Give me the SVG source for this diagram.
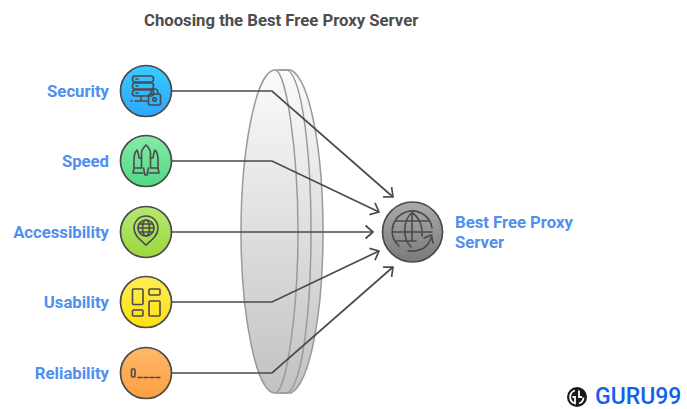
<svg xmlns="http://www.w3.org/2000/svg" width="687" height="409" viewBox="0 0 687 409">
<style>
text{font-family:Roboto,"Liberation Sans",sans-serif;font-weight:700}
.t{font-size:16.700px;fill:#4d4d4d}
.l{font-size:16.700px;fill:#4f8ff0}
.c{stroke:#4a4a4a;stroke-width:1.700}
.i{fill:none;stroke:#4a4a4a;stroke-width:1.600;stroke-linecap:round;stroke-linejoin:round}
.e{fill:none;stroke:#9a9a9a;stroke-width:1.500}
.a{fill:none;stroke:#4a4a4a;stroke-width:1.700;stroke-linejoin:round}
</style>
<defs>
<linearGradient id="g0" x1="0" y1="0" x2="0" y2="1"><stop offset="0" stop-color="#fbfbfb"/><stop offset="1" stop-color="#c2c2c2"/></linearGradient>
<linearGradient id="g1" x1="0" y1="0" x2="0" y2="1"><stop offset="0" stop-color="#38ccff"/><stop offset="1" stop-color="#2ea6ff"/></linearGradient>
<linearGradient id="g2" x1="0" y1="0" x2="0" y2="1"><stop offset="0" stop-color="#86eba6"/><stop offset="1" stop-color="#52d884"/></linearGradient>
<linearGradient id="g3" x1="0" y1="0" x2="0" y2="1"><stop offset="0" stop-color="#b8e672"/><stop offset="1" stop-color="#9cd83c"/></linearGradient>
<linearGradient id="g4" x1="0" y1="0" x2="0" y2="1"><stop offset="0" stop-color="#ffee55"/><stop offset="1" stop-color="#fde010"/></linearGradient>
<linearGradient id="g5" x1="0" y1="0" x2="0" y2="1"><stop offset="0" stop-color="#ffb868"/><stop offset="1" stop-color="#fd9f45"/></linearGradient>
<linearGradient id="g6" x1="0" y1="0" x2="0" y2="1"><stop offset="0" stop-color="#ababab"/><stop offset="1" stop-color="#7a7a7a"/></linearGradient>
<marker id="ah" markerUnits="userSpaceOnUse" markerWidth="16" markerHeight="16" refX="12" refY="8" orient="auto"><path d="M4.500 1.500L12 8L4.500 14.500" class="a"/></marker>
</defs>
<text class="t" x="144" y="26">Choosing the Best Free Proxy Server</text>
<g id="lens">
<path d="M277 70H290C309 78 323 150 323 232C323 314 309 385 290 393H277C255 393 241 314 241 232C241 150 255 70 277 70Z" fill="url(#g0)"/>
<path class="e" d="M275 70C256 70 241 150 241 232C241 314 256 393 275 393C286 393 298 314 298 232C298 150 286 70 275 70Z"/>
<path class="e" d="M275 70H288C302 80 311 150 311 232C311 314 302 383 288 393H275"/>
<path class="e" d="M279 70H291C310 80 323 150 323 232C323 314 310 383 291 393H279"/>
</g>
<g id="connectors" fill="none">
<path class="c" marker-end="url(#ah)" d="M172 91H272L393 197"/>
<path class="c" marker-end="url(#ah)" d="M172 161H272L379 212"/>
<path class="c" marker-end="url(#ah)" d="M172 232H373"/>
<path class="c" marker-end="url(#ah)" d="M172 302H272L379 251"/>
<path class="c" marker-end="url(#ah)" d="M172 373H272L393 267"/>
</g>
<g id="security">
<text class="l" x="109" y="97" text-anchor="end">Security</text>
<circle class="c" cx="146" cy="91" r="25.500" fill="url(#g1)"/>
<g class="i"><rect x="132.500" y="76" width="21" height="6" rx="2.500"/><rect x="132.500" y="83" width="21" height="6" rx="2.500"/><rect x="132.500" y="90" width="21" height="6" rx="2.500"/><path d="M136 79h2M136 86h2M136 93h2M141 96v5M135 101h12M131 101h1"/><rect x="148.500" y="94" width="12" height="11" rx="1.500"/><path d="M151 94v-1.500a3.500 3.500 0 0 1 7 0V94"/><circle cx="154.500" cy="99.500" r="1.700"/></g>
</g>
<g id="speed">
<text class="l" x="109" y="167" text-anchor="end">Speed</text>
<circle class="c" cx="146" cy="161" r="25.500" fill="url(#g2)"/>
<g class="i"><path d="M141.500 168V153C141.500 150 144 147 146 145C148 147 150.500 150 150.500 153V168M143.500 168L145 175H147L148.500 168"/><path d="M141.500 158H139C138 151 137 150 137 150C135 152 134 156 134 160V168M150.500 158H153C154 151 155 150 155 150C157 152 158 156 158 160V168M134 168H141M158 168H151M134 168L133 173H143M158 168L159 173H149"/></g>
</g>
<g id="accessibility">
<text class="l" x="109" y="238" text-anchor="end">Accessibility</text>
<circle class="c" cx="146" cy="232" r="25.500" fill="url(#g3)"/>
<g class="i"><path d="M146 245C139 239 134 235 134 228A12 12 0 0 1 158 228C158 235 153 239 146 245Z"/><circle cx="146" cy="228" r="8"/><ellipse cx="146" cy="228" rx="3.500" ry="8"/><path d="M138 228H154M139 224H153M139 232H153"/></g>
</g>
<g id="usability">
<text class="l" x="109" y="308" text-anchor="end">Usability</text>
<circle class="c" cx="146" cy="302" r="25.500" fill="url(#g4)"/>
<g class="i" stroke-width="1.800"><rect x="132.500" y="289" width="10.500" height="15.500" rx="1"/><rect x="149" y="289" width="11" height="6" rx="1"/><rect x="149" y="301" width="11" height="15" rx="1"/><rect x="132.500" y="310" width="10.500" height="6" rx="1"/></g>
</g>
<g id="reliability">
<text class="l" x="109" y="379" text-anchor="end">Reliability</text>
<circle class="c" cx="146" cy="373" r="25.500" fill="url(#g5)"/>
<g class="i"><rect x="131.500" y="369" width="3.500" height="8" rx="1"/><path d="M138 377.500h4M144 377.500h4M150 377.500h4M156 377.500h4"/></g>
</g>
<g id="target">
<circle class="c" cx="412.500" cy="232" r="30" fill="url(#g6)"/>
<g class="i" stroke-width="1.600"><path d="M399 246A20 20 0 1 1 432 228"/><path d="M412 212.500C403 220 402 238 411 247M412 212.500C420 218 423 228 422 236M393.500 227V227M412 212.500V241M396 221H429M393 232H432M396 241H416"/><path d="M408 251C420 252 428 247 431 238M424 238L431.500 235L433 243"/></g>
<text class="l" x="455" y="228">Best Free Proxy</text>
<text class="l" x="455" y="248">Server</text>
</g>
<g id="logo">
<circle cx="577" cy="397" r="10" fill="#1a1a1a"/>
<path d="M575 390.500a6.800 6.800 0 0 0 0 13V397h-2.500M579 390.500V397h3M579 403.500a6.800 6.800 0 0 0 4.500-6" fill="none" stroke="#fff" stroke-width="1.800"/>
<text x="595" y="403.500" style="font-size:23px;fill:#0f62f0;font-weight:500">GURU99</text>
</g>
</svg>
